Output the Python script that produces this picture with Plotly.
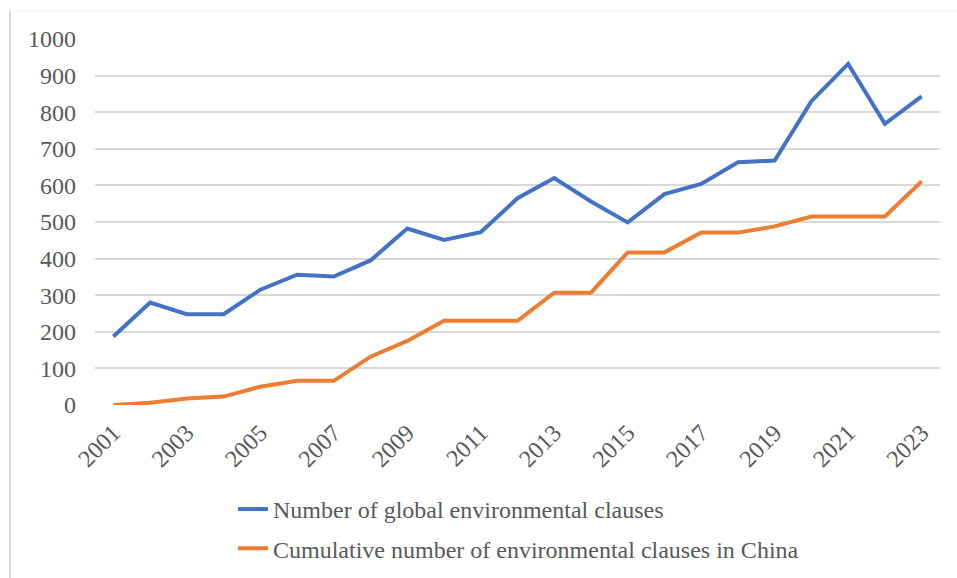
import plotly.graph_objects as go

years = [str(y) for y in range(2001, 2024)]
global_clauses = [187, 280, 248, 248, 315, 356, 351, 395, 482, 451, 472, 565,
                  620, 556, 499, 576, 604, 663, 668, 830, 932, 768, 843]
china_cumulative = [0, 6, 18, 23, 50, 66, 66, 132, 175, 230, 230, 230,
                    307, 307, 417, 417, 471, 471, 488, 515, 515, 515, 611]
series_names = ["Number of global environmental clauses",
                "Cumulative number of environmental clauses in China"]
tick_years = years[::2]
y_ticks = list(range(0, 1001, 100))

FONT = "'Liberation Serif', 'Times New Roman', serif"
GREY = "#595959"
FS = 24

fig = go.Figure()
fig.add_trace(go.Scatter(x=years, y=global_clauses, mode="lines", name=series_names[0],
                         line=dict(color="#4472C4", width=4), legendgroup="a"))
fig.add_trace(go.Scatter(x=years, y=china_cumulative, mode="lines", name=series_names[1],
                         line=dict(color="#ED7D31", width=4), legendgroup="b"))

fig.update_layout(
    width=957, height=578,
    margin=dict(l=95, r=17, t=39, b=173, autoexpand=False),
    paper_bgcolor="white", plot_bgcolor="white",
    font=dict(family=FONT, size=FS, color=GREY),
    showlegend=True,
    legend=dict(x=0.1633, xanchor="left", y=0.1575, yref="container", yanchor="top",
                orientation="v", tracegroupgap=5,
                font=dict(family=FONT, size=FS, color=GREY),
                bgcolor="rgba(0,0,0,0)"),
    xaxis=dict(type="category", tickmode="array", tickvals=tick_years, ticktext=tick_years,
               range=[-0.5, len(years) - 0.5], automargin=False, ticklabelstandoff=8,
               tickangle=-45, showgrid=False, showline=False, zeroline=False,
               ticks="", tickfont=dict(family=FONT, size=FS, color=GREY)),
    yaxis=dict(range=[0, 1000], tickmode="array", tickvals=y_ticks, automargin=False,
               showgrid=True, gridcolor="#D9D9D9", gridwidth=1.5,
               zeroline=False, showline=False, ticks="", ticklabelstandoff=18,
               tickfont=dict(family=FONT, size=FS, color=GREY)),
    shapes=[
        dict(type="line", xref="paper", yref="paper", x0=-0.1006, x1=-0.1006,
             y0=1.0765, y1=-0.48, line=dict(color="#D9D9D9", width=2)),
        dict(type="line", xref="paper", yref="paper", x0=-0.1006, x1=1.03,
             y0=1.0765, y1=1.0765, line=dict(color="#F2F2F2", width=1)),
    ],
)

fig.write_html("out.html")
